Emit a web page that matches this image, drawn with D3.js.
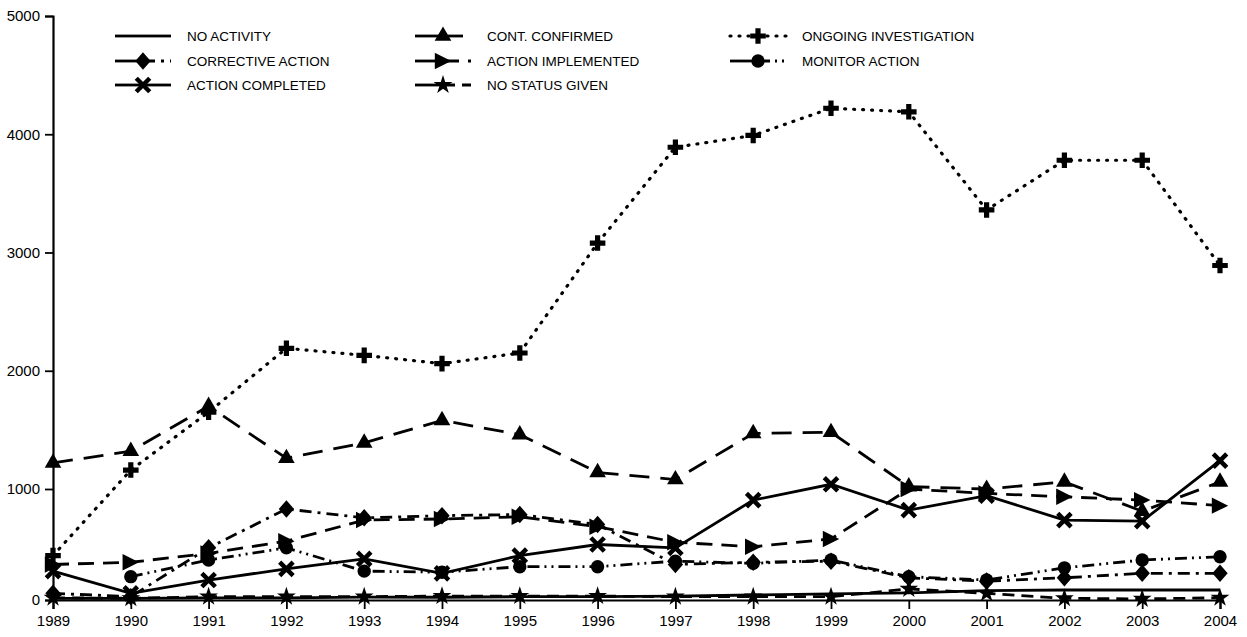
<!DOCTYPE html>
<html>
<head>
<meta charset="utf-8">
<script src="https://cdn.jsdelivr.net/npm/d3@7"></script>
<style>
  body { margin: 0; background: #fff; }
  text { font-family: "Liberation Sans", Arial, sans-serif; fill: #000; }
</style>
</head>
<body>
<svg id="chart" width="1247" height="637"></svg>
<script>
// values
let years = [1989, 1990, 1991, 1992, 1993, 1994, 1995, 1996, 1997, 1998, 1999, 2000, 2001, 2002, 2003, 2004]
let yTicks = [0, 1000, 2000, 3000, 4000, 5000]

let noActivity = [15, 15, 20, 20, 25, 25, 30, 30, 35, 45, 55, 65, 85, 90, 90, 90]
let correctiveAction = [60, 30, 470, 820, 740, 760, 770, 680, 320, 340, 350, 200, 170, 200, 240, 240]
let actionCompleted = [260, 60, 180, 280, 370, 240, 400, 500, 470, 900, 1040, 810, 940, 720, 710, 1240]
let contConfirmed = [1220, 1320, 1700, 1260, 1390, 1580, 1460, 1140, 1080, 1470, 1480, 1020, 1000, 1060, 800, 1060]
let actionImplemented = [320, 340, 420, 530, 720, 730, 750, 660, 520, 480, 550, 1000, 960, 930, 900, 850]
let noStatusGiven = [20, 15, 30, 30, 30, 35, 35, 35, 30, 30, 30, 100, 60, 15, 10, 20]
let ongoingInvestigation = [400, 1160, 1650, 2190, 2130, 2060, 2150, 3080, 3890, 3990, 4220, 4190, 3360, 3780, 3780, 2890]
let monitorAction = [null, 210, 360, 470, 260, 250, 300, 300, 350, 330, 360, 210, 180, 290, 360, 390]

let svg = d3.select('#chart')

let x = d3.scaleLinear().domain([1989, 2004]).range([53, 1220])
// scan is slightly stretched near the bottom, so a two piece scale
let y = d3.scaleLinear().domain([0, 1000, 5000]).range([600, 489, 16])

let rightTriangle = {
  draw: (ctx, size) => {
    let h = Math.sqrt(size) * 0.75
    ctx.moveTo(h, 0)
    ctx.lineTo(-h, -h)
    ctx.lineTo(-h, h)
    ctx.closePath()
  }
}
let diamond = {
  draw: (ctx, size) => {
    let w = Math.sqrt(size) * 0.7
    let h = Math.sqrt(size) * 0.8
    ctx.moveTo(0, -h)
    ctx.lineTo(w, 0)
    ctx.lineTo(0, h)
    ctx.lineTo(-w, 0)
    ctx.closePath()
  }
}

let series = [
  { name: 'NO ACTIVITY', values: noActivity, dash: null, symbol: null, width: 2.8 },
  { name: 'CORRECTIVE ACTION', values: correctiveAction, dash: '12,6,3,6', symbol: diamond, size: 120 },
  { name: 'ACTION COMPLETED', values: actionCompleted, dash: null, symbol: d3.symbolTimes, size: 120, stroke: true },
  { name: 'CONT. CONFIRMED', values: contConfirmed, dash: '20,11', symbol: d3.symbolTriangle, size: 120 },
  { name: 'ACTION IMPLEMENTED', values: actionImplemented, dash: '16,9', symbol: rightTriangle, size: 120 },
  { name: 'NO STATUS GIVEN', values: noStatusGiven, dash: '12,7', symbol: d3.symbolStar, size: 110 },
  { name: 'ONGOING INVESTIGATION', values: ongoingInvestigation, dash: '1,8', cap: 'round', symbol: d3.symbolCross, size: 135, width: 3.2, dotted: true },
  { name: 'MONITOR ACTION', values: monitorAction, dash: '12,5,2,5,2,5', symbol: d3.symbolCircle, size: 140 }
]

// axes
svg.append('g')
  .attr('transform', 'translate(53,0)')
  .call(d3.axisLeft(y).tickValues(yTicks).tickSize(8).tickPadding(5).tickFormat(d3.format('d')))
svg.append('g')
  .attr('transform', 'translate(0,600)')
  .call(d3.axisBottom(x).tickValues(years).tickSize(9).tickPadding(6).tickFormat(d3.format('d')))

svg.selectAll('.domain').attr('stroke', '#000').attr('stroke-width', 2.2)
svg.selectAll('.tick line').attr('stroke', '#000').attr('stroke-width', 1.8)
svg.selectAll('.tick text').attr('font-size', 15).attr('font-family', '"Liberation Sans", Arial, sans-serif').attr('fill', '#000')

let line = d3.line()
  .defined(d => d != null)
  .x((d, i) => x(years[i]))
  .y(d => y(d))

let plot = svg.append('g')

series.forEach(s => {
  plot.append('path')
    .attr('d', line(s.values))
    .attr('fill', 'none')
    .attr('stroke', '#000')
    .attr('stroke-width', s.width || 2.8)
    .attr('stroke-dasharray', s.dash)
    .attr('stroke-linecap', s.cap || 'butt')
})

let drawMarker = (g, s, cx, cy) => {
  if (!s.symbol) return
  let m = g.append('path')
    .attr('d', d3.symbol().type(s.symbol).size(s.size)())
    .attr('transform', 'translate(' + cx + ',' + cy + ')')
  if (s.stroke) {
    m.attr('fill', 'none').attr('stroke', '#000').attr('stroke-width', 4.5)
  } else {
    m.attr('fill', '#000')
  }
}

series.forEach(s => {
  s.values.forEach((v, i) => {
    if (v == null) return
    drawMarker(plot, s, x(years[i]), y(v))
  })
})

// legend, three columns
let legendCols = [115, 415, 730]
let legendRows = [36, 61, 85]
let legend = svg.append('g')
series.forEach((s, i) => {
  let cx = legendCols[Math.floor(i / 3)]
  let cy = legendRows[i % 3]
  // solid up to the marker (dotted one stays dotted), then the series pattern
  legend.append('line')
    .attr('x1', cx).attr('x2', cx + 28)
    .attr('y1', cy).attr('y2', cy)
    .attr('stroke', '#000')
    .attr('stroke-width', s.width || 2.8)
    .attr('stroke-dasharray', (s.symbol && !s.dotted) ? null : s.dash)
    .attr('stroke-linecap', s.cap || 'butt')
  legend.append('line')
    .attr('x1', cx + 28).attr('x2', cx + 56)
    .attr('y1', cy).attr('y2', cy)
    .attr('stroke', '#000')
    .attr('stroke-width', s.width || 2.8)
    .attr('stroke-dasharray', s.dash)
    .attr('stroke-linecap', s.cap || 'butt')
  drawMarker(legend, s, cx + 28, cy)
  legend.append('text')
    .attr('x', cx + 72)
    .attr('y', cy + 5)
    .attr('font-size', 13.5)
    .text(s.name)
})
</script>
</body>
</html>
